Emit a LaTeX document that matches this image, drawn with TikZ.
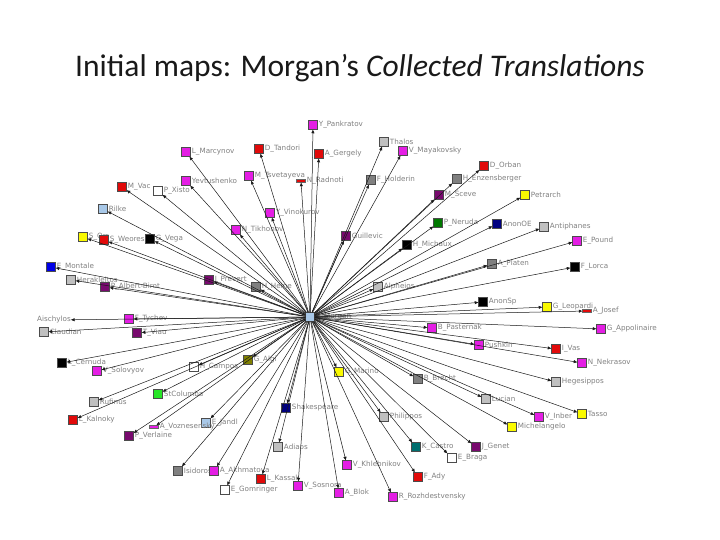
\documentclass[tikz,border=0pt]{standalone}
\usepackage{fontspec}
\setmainfont{Carlito}
\newfontfamily\labfont{DejaVu Sans}
\usetikzlibrary{arrows.meta}
\definecolor{cmag}{RGB}{228,30,228}
\definecolor{cred}{RGB}{225,10,10}
\definecolor{cpurp}{RGB}{120,10,110}
\definecolor{cgray}{RGB}{128,128,128}
\definecolor{clgray}{RGB}{192,192,192}
\definecolor{cyel}{RGB}{250,250,0}
\definecolor{clblue}{RGB}{168,200,232}
\definecolor{cblue}{RGB}{0,0,230}
\definecolor{cnavy}{RGB}{0,0,128}
\definecolor{cdgreen}{RGB}{0,120,0}
\definecolor{cgreen}{RGB}{40,230,40}
\definecolor{cteal}{RGB}{0,110,110}
\definecolor{colive}{RGB}{128,128,0}
\newcommand\pn[6][sq]{\node[#1,fill=#5] (#2) at (#3,#4) {}; \node[lab] at (#2.east) {#6};}
\begin{document}
\begin{tikzpicture}[x=1pt,y=-1pt,
  sq/.style={draw=black!70, line width=0.5pt, minimum size=9pt, inner sep=0pt},
  flat/.style={draw=black!60, line width=0.4pt, minimum width=9pt, minimum height=3pt, inner sep=0pt},
  lab/.style={anchor=west, font=\labfont\fontsize{7.2}{8}\selectfont, text=black!50, inner sep=1pt},
  edge/.style={draw=black!90, line width=0.5pt, -{Triangle[length=3.5pt,width=3pt]}}]
\useasboundingbox (0,0) rectangle (720,540);
\node[font=\fontsize{31.5}{36}\selectfont, text=black!90] (title) at (360,68) {Initial maps: Morgan’s \textit{Collected Translations}};
\pn{M}{310}{317}{clblue}{E\_Morgan}
\pn{YPan}{313}{125}{cmag}{Y\_Pankratov}
\pn{DTan}{259}{149}{cred}{D\_Tandori}
\pn{AGer}{319}{154}{cred}{A\_Gergely}
\pn{Thal}{384}{142}{clgray}{Thalos}
\pn{VMay}{403}{151}{cmag}{V\_Mayakovsky}
\pn{LMar}{186}{152}{cmag}{L\_Marcynov}
\pn{DOrb}{484}{166}{cred}{D\_Orban}
\pn{MTsv}{249}{176}{cmag}{M\_Tsvetayeva}
\pn[flat]{NRad}{301}{181}{cred}{N\_Radnoti}
\pn{FHol}{371}{180}{cgray}{F\_Holderin}
\pn{HEnz}{457}{179}{cgray}{H\_Enzensberger}
\pn{Yevt}{186}{181}{cmag}{Yevtushenko}
\pn{MVac}{122}{187}{cred}{M\_Vac}
\pn{PXis}{158}{191}{white}{P\_Xisto}
\pn{MSce}{439}{195}{cpurp}{M\_Sceve}
\pn{Petr}{525}{195}{cyel}{Petrarch}
\pn{Rilk}{103}{209}{clblue}{Rilke}
\pn{YVin}{270}{213}{cmag}{Y\_Vinokurov}
\pn{PNer}{438}{223}{cdgreen}{P\_Neruda}
\pn{AnOE}{497}{224}{cnavy}{AnonOE}
\pn{Anti}{544}{227}{clgray}{Antiphanes}
\pn{NTik}{236}{230}{cmag}{N\_Tikhonov}
\pn{Guil}{346}{236}{cpurp}{Guillevic}
\pn{SOrr}{83}{237}{cyel}{S\_Orr}
\pn{SWeo}{104}{240}{cred}{S\_Weores}
\pn{GVeg}{150}{239}{black}{G\_Vega}
\pn{EPou}{577}{241}{cmag}{E\_Pound}
\pn{HMic}{407}{245}{black}{H\_Michaux}
\pn{APla}{492}{264}{cgray}{A\_Platen}
\pn{FLor}{575}{267}{black}{F\_Lorca}
\pn{EMon}{51}{267}{cblue}{E\_Montale}
\pn{Hera}{71}{280}{clgray}{Herakleitos}
\pn{JPre}{209}{280}{cpurp}{J\_Prevert}
\pn{PAlb}{105}{287}{cpurp}{P\_Albert-Birot}
\pn{HHei}{256}{287}{cgray}{H\_Heine}
\pn{Alph}{378}{287}{clgray}{Alpheios}
\pn{AnSp}{483}{302}{black}{AnonSp}
\pn{GLeo}{547}{307}{cyel}{G\_Leopardi}
\pn[flat]{AJos}{587}{311}{cred}{A\_Josef}
\node[lab, inner sep=0pt] (Aisc) at (37,320) {Aischylos};
\pn{FTyc}{129}{319}{cmag}{F\_Tychev}
\pn{Clau}{44}{332}{clgray}{Claudian}
\pn{TVia}{137}{333}{cpurp}{T\_Viau}
\pn{BPas}{432}{328}{cmag}{B\_Pasternak}
\pn{GApp}{601}{329}{cmag}{G\_Appolinaire}
\pn{Push}{479}{345}{cmag}{Pushkin}
\pn{IVas}{556}{349}{cred}{I\_Vas}
\pn{LCer}{62}{363}{black}{L\_Cernuda}
\pn{GAlg}{248}{360}{colive}{G\_Algi}
\pn{NNek}{582}{363}{cmag}{N\_Nekrasov}
\pn{HCam}{194}{367}{white}{H\_Campos}
\pn{VSol}{97}{371}{cmag}{V\_Solovyov}
\pn{GMar}{339}{372}{cyel}{G\_Marino}
\pn{BBre}{418}{379}{cgray}{B\_Brecht}
\pn{Hege}{556}{382}{clgray}{Hegesippos}
\pn{StCo}{158}{394}{cgreen}{StColumba}
\pn{Ruf}{94}{402}{clgray}{Rufinus}
\pn{Luc}{486}{399}{clgray}{Lucian}
\pn{Shak}{286}{408}{cnavy}{Shakespeare}
\pn{Phil}{384}{417}{clgray}{Philippos}
\pn{VInb}{539}{417}{cmag}{V\_Inber}
\pn{Tass}{582}{414}{cyel}{Tasso}
\pn{LKal}{73}{420}{cred}{L\_Kalnoky}
\pn{EJan}{206}{423}{clblue}{E\_Jandl}
\pn[flat]{AVoz}{154}{427}{cmag}{A\_Voznesensky}
\pn{Mich}{512}{427}{cyel}{Michelangelo}
\pn{PVer}{129}{436}{cpurp}{P\_Verlaine}
\pn{Adia}{278}{447}{clgray}{Adiaos}
\pn{KCas}{416}{447}{cteal}{K\_Castro}
\pn{JGen}{476}{447}{cpurp}{J\_Genet}
\pn{EBra}{452}{458}{white}{E\_Braga}
\pn{VKhl}{347}{465}{cmag}{V\_Khlebnikov}
\pn{Isid}{178}{471}{cgray}{Isidoros}
\pn{AAkh}{214}{471}{cmag}{A\_Akhmatova}
\pn{FAdy}{418}{477}{cred}{F\_Ady}
\pn{LKas}{261}{479}{cred}{L\_Kassak}
\pn{VSos}{298}{486}{cmag}{V\_Sosnora}
\pn{EGom}{225}{490}{white}{E\_Gomringer}
\pn{ABlo}{339}{493}{cmag}{A\_Blok}
\pn{RRoz}{393}{497}{cmag}{R\_Rozhdestvensky}
\foreach \n in {YPan,DTan,AGer,Thal,VMay,LMar,DOrb,MTsv,NRad,FHol,HEnz,Yevt,MVac,PXis,MSce,Petr,Rilk,YVin,PNer,AnOE,Anti,NTik,Guil,SOrr,SWeo,GVeg,EPou,HMic,APla,FLor,EMon,Hera,JPre,PAlb,HHei,Alph,AnSp,GLeo,AJos,Aisc,FTyc,Clau,TVia,BPas,GApp,Push,IVas,LCer,GAlg,NNek,HCam,VSol,GMar,BBre,Hege,StCo,Ruf,Luc,Shak,Phil,VInb,Tass,LKal,EJan,AVoz,Mich,PVer,Adia,KCas,JGen,EBra,VKhl,Isid,AAkh,FAdy,LKas,VSos,EGom,ABlo,RRoz}
  \draw[edge] (M) -- (\n);
\end{tikzpicture}
\end{document}
